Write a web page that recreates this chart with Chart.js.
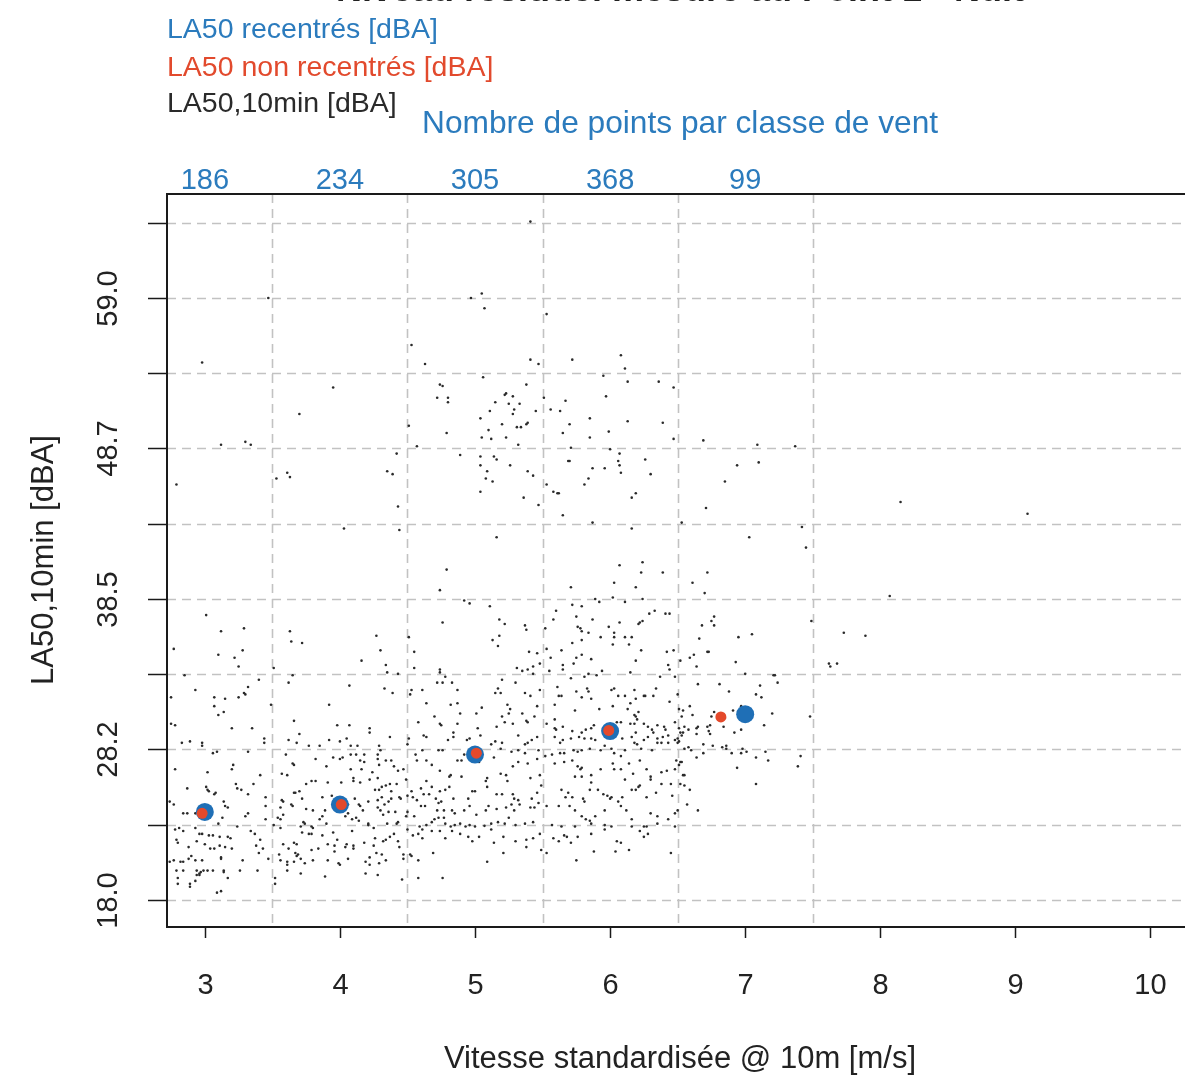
<!DOCTYPE html>
<html>
<head>
<meta charset="utf-8">
<script src="https://cdn.jsdelivr.net/npm/chart.js@4.4.1/dist/chart.umd.min.js"></script>
<style>
html, body { margin: 0; padding: 0; background: #fff; overflow: hidden; }
#wrap { width: 1200px; height: 1079px; }
</style>
</head>
<body>
<div id="wrap"><canvas id="chart" width="1200" height="1079"></canvas></div>
<script>
// wind classes and the number of 10 min samples in each
var windClasses = [3, 4, 5, 6, 7];
var pointsPerClass = [186, 234, 305, 368, 99];
var classLimits = [3.5, 4.5, 5.5, 6.5, 7.5];

// axis ticks
var xTicks = [3, 4, 5, 6, 7, 8, 9, 10];
var yTicks = [18.0, 23.125, 28.25, 33.375, 38.5, 43.625, 48.75, 53.875, 59.0, 64.125];
var yTickLabels = ["18.0", "", "28.2", "", "38.5", "", "48.7", "", "59.0", ""];

// medians per class
var recentred = [[3, 24.0], [4, 24.5], [5, 27.9], [6, 29.5], [7, 30.65]];
var notRecentred = [[2.98, 23.9], [4.01, 24.5], [5.01, 28.0], [5.99, 29.55], [6.82, 30.47]];

// LA50,10min samples, grouped by wind class
var samplesClass3 = [[3.47,59.0],[2.98,54.6],[3.12,49.0],[3.30,49.2],[3.34,49.0],[2.79,46.3],[3.01,37.4],[3.12,36.3],[3.29,36.5],[2.77,35.1],[3.10,34.7],[3.28,35.0],[3.22,34.5],[3.25,33.9],[2.85,33.3],[3.40,33.0],[2.93,32.3],[3.07,31.8],[3.15,31.7],[3.25,31.8],[3.29,32.1],[3.30,32.0],[3.32,32.5],[2.75,31.8],
[3.07,31.2],[3.10,30.6],[3.14,30.8],[3.49,31.3],[2.75,30.0],[2.78,29.9],[3.20,29.7],[3.35,29.7],[3.44,29.0],[3.44,28.7],[2.83,28.7],[2.89,28.8],[2.98,28.7],[2.98,28.5],
[3.06,28.0],[3.09,28.1],[3.32,28.1],[3.21,27.2],[3.20,26.9],[2.78,26.9],[3.02,26.7],[3.41,26.5],[3.36,25.9],[3.23,25.9],[3.24,25.6],[3.27,25.5],[2.87,25.6],[3.01,25.7],[3.08,25.3],
[3.02,25.5],[3.03,25.4],[3.07,25.2],[3.14,24.7],[3.17,24.3],[3.15,24.4],[2.74,24.7],[2.77,24.5],[3.45,25.0],[3.45,24.4],[3.32,25.2],
[2.84,23.9],[2.87,23.9],[2.93,23.9],[3.02,24.1],[3.10,23.2],[3.13,23.6],[3.32,23.9],[3.30,23.7],[3.45,23.5],
[3.24,23.0],[2.78,22.8],[2.81,22.9],[2.84,22.7],[2.93,22.9],[2.96,22.5],[2.98,22.5],[3.03,22.4],[3.06,22.4],[3.11,22.3],[3.17,22.3],[3.19,22.2],[3.34,22.7],[3.37,22.5],[3.41,22.1],[2.79,22.1],[2.80,21.9],[2.94,22.0],
[2.88,21.6],[3.00,21.8],[3.04,21.5],[3.07,21.5],[3.11,21.7],[3.15,21.6],[3.38,21.7],[3.20,21.5],[3.40,21.2],[3.43,21.5],[3.47,20.8],
[2.74,20.6],[2.77,20.7],[2.82,20.6],[2.84,20.6],[2.88,20.8],[2.90,21.0],[2.93,20.7],[2.98,20.7],[3.12,20.9],[3.12,20.8],[3.28,20.7],
[2.79,20.0],[2.84,20.0],[2.94,20.0],[2.96,19.8],[2.97,19.9],[2.99,20.0],[3.02,20.0],[3.06,20.0],[3.14,20.0],[3.14,19.9],[3.17,19.5],[3.26,20.0],[3.39,20.0],
[2.80,19.5],[2.80,19.1],[2.89,19.1],[2.89,18.9],[2.94,19.7],[2.93,19.3],[2.96,19.7],[3.09,18.5],[3.12,18.6]];

var samplesClass4 = [[3.95,52.9],[3.70,51.1],[3.61,47.1],[3.53,46.7],[3.63,46.8],[4.35,47.2],[4.39,47.0],[4.42,48.4],[4.43,44.8],[4.03,43.3],[4.44,43.2],[3.63,36.3],[3.64,35.6],[3.72,35.5],[3.51,33.8],[3.65,33.3],[3.62,32.8],[4.27,36.0],[4.30,35.0],[4.34,34.0],[4.35,33.5],[4.43,33.4],[4.16,34.3],[4.07,32.6],[4.33,32.4],[4.39,32.1],
[3.92,31.3],[3.66,30.2],[3.70,29.3],[3.62,28.9],[3.68,28.7],[3.98,29.9],[4.07,29.9],[4.22,29.7],[4.22,29.4],[3.92,28.9],[4.00,28.8],[4.05,29.0],[4.08,28.5],[4.13,28.5],[3.85,28.5],[3.77,28.5],[4.37,29.1],[4.29,28.5],
[3.60,27.9],[3.65,27.3],[3.66,27.2],[3.82,27.6],[3.90,27.1],[3.95,27.7],[4.00,27.6],[4.02,27.7],[4.08,27.9],[4.18,27.9],[4.12,27.9],[4.15,27.5],[4.18,27.4],[4.28,27.9],[4.30,28.2],[4.28,27.6],[4.34,27.5],[4.38,27.5],[4.40,27.1],[4.43,26.8],[4.47,26.9],[4.08,26.9],[4.16,26.9],[4.24,26.7],[4.29,27.2],
[3.57,26.6],[3.61,26.5],[3.75,25.9],[3.79,26.1],[3.82,26.1],[4.10,26.3],[4.10,26.1],[3.91,26.0],[4.01,26.0],[4.15,26.0],[4.28,26.3],[4.22,26.2],[4.31,25.7],[4.29,25.5],[4.34,25.8],[4.37,25.9],[4.42,25.9],[4.49,26.2],
[3.57,24.8],[3.58,24.7],[3.64,24.5],[3.67,25.3],[3.70,25.4],[3.66,25.3],[3.72,24.9],[3.87,25.0],[3.94,25.1],[4.06,24.5],[4.11,24.9],[4.14,24.5],[4.15,24.4],[4.21,24.7],[4.26,25.5],[4.28,24.8],[4.31,25.0],[4.33,24.5],[4.36,24.7],[4.38,24.9],[4.38,25.4],[4.44,25.0],[4.45,24.9],
[3.54,23.6],[3.56,23.5],[3.58,23.8],[3.56,24.3],[3.65,24.4],[3.75,24.2],[3.80,24.1],[3.89,24.1],[3.85,23.5],[3.87,23.7],[3.90,23.2],[4.06,23.9],[4.04,23.7],[4.09,23.5],[4.12,23.6],[4.14,23.4],[4.17,24.1],[4.21,23.2],[4.28,24.3],[4.30,24.1],[4.32,23.8],[4.36,24.0],[4.41,24.0],[4.42,23.2],[4.43,23.3],[4.49,23.7],
[3.51,23.1],[3.56,22.9],[3.73,23.3],[3.74,23.2],[3.71,23.0],[3.79,23.0],[3.80,22.9],[3.72,22.6],[3.77,22.5],[3.79,22.5],[3.87,22.4],[3.95,22.6],[4.09,22.7],[4.21,23.1],[4.25,22.9],[4.35,23.2],[4.26,22.2],[4.37,22.3],[4.40,22.5],[4.32,22.0],[4.34,22.1],[3.98,22.1],
[3.66,21.9],[3.68,21.8],[3.67,21.2],[3.69,21.1],[3.62,21.5],[3.58,21.8],[3.91,21.8],[3.96,21.7],[4.04,21.6],[4.05,21.8],[4.10,21.7],[4.10,21.5],[3.96,21.3],[3.84,21.5],[3.79,21.4],[4.18,21.9],[4.25,21.7],[4.43,22.0],[4.44,21.6],[4.47,21.1],[4.31,21.1],[4.27,21.2],[4.22,20.9],[4.19,20.6],[4.22,20.4],[4.29,20.5],[4.34,20.7],[4.47,20.8],
[3.55,21.1],[3.56,20.7],[3.61,20.6],[3.61,20.4],[3.66,20.6],[3.68,21.0],[3.71,20.8],[3.74,20.5],[3.80,20.7],[3.91,20.7],[3.99,20.5],[4.00,20.4],[4.06,20.8],
[3.61,20.0],[3.71,19.8],[3.89,19.6],[4.19,19.8],[4.28,19.7],[4.46,19.4],[3.52,19.5],[3.52,19.1]];

var samplesClass5 = [[4.53,55.8],[4.63,54.5],[4.51,50.3],[4.57,48.9],[4.97,59.0],[5.05,59.3],[5.07,58.3],[5.41,54.8],[5.47,54.5],[5.06,53.6],[4.74,53.1],[4.76,53.0],[4.72,52.2],[4.80,52.2],[4.80,51.9],[5.38,53.1],[5.23,52.5],[5.22,52.4],[5.28,52.3],[5.15,51.9],[5.25,51.8],[5.33,51.8],[5.29,51.4],[5.28,51.1],[5.11,51.3],[5.45,51.3],[5.04,50.8],[5.20,50.4],[5.39,50.5],[5.38,50.4],[5.31,50.2],[5.34,50.2],[5.10,50.0],[4.79,49.8],[5.05,49.5],[5.12,49.4],[5.23,49.5],[5.32,49.0],[5.41,64.2],
[4.51,35.9],[4.55,34.9],[4.55,33.8],[4.53,32.3],[4.61,32.3],[4.52,32.0],
[4.89,48.3],[5.04,48.2],[5.14,48.2],[5.16,48.0],[5.26,47.6],[5.04,47.6],[5.09,47.2],[5.39,47.2],[5.43,46.9],[5.08,46.7],[5.13,46.5],[5.04,45.8],[5.36,45.4],[5.47,44.9],[5.16,42.7],[4.79,40.5],[4.74,39.1],[4.92,38.4],[4.96,38.2],[4.76,36.9],[5.11,38.0],[5.18,37.1],[5.22,36.8],[5.37,36.7],[5.38,36.4],[5.18,36.0],[5.13,35.7],[5.17,35.3],[5.40,34.9],[5.46,34.8],[5.43,33.9],[5.48,34.1],[5.31,33.8],[5.35,33.6],[5.39,33.7],[5.43,33.4],[5.20,33.0],[5.30,32.8],[5.17,32.4],[5.15,32.1],[5.19,32.1],[4.87,32.3],[4.74,33.7],[4.74,33.5],[4.78,33.2],[4.72,32.8],[4.76,32.8],[4.83,32.8],[5.37,32.1],[5.41,31.9],[5.48,32.3],
[4.51,29.0],[4.50,28.6],[4.56,27.9],[4.57,27.5],[4.64,27.5],[4.53,25.4],[4.60,25.6],[4.50,25.1],[4.54,25.0],[4.63,24.4],[4.57,24.8],[4.55,23.7],[4.50,24.0],[4.60,24.4],[4.64,23.1],[4.50,22.8],[4.54,22.4],[4.58,22.5],[4.61,22.2],[4.52,21.1],[4.53,21.0],[4.58,20.7],[4.58,19.5],
[4.64,31.4],[4.82,31.3],[4.87,31.4],[5.05,31.1],[5.24,31.3],[5.26,31.0],[5.25,30.7],[5.35,30.7],[5.46,31.2],
[4.58,30.1],[4.70,30.5],[4.74,30.0],[4.75,29.9],[4.89,30.7],[5.01,30.7],[4.87,30.0],[5.02,29.7],[5.16,29.8],[5.20,30.5],[5.22,30.1],[5.28,30.0],[5.38,30.2],[5.39,30.1],[5.44,30.5],[4.62,29.2],[4.64,29.1],[4.84,29.4],[4.84,29.1],[4.96,29.0],
[4.80,28.9],[4.94,28.9],[5.04,29.2],[5.15,28.8],[5.20,28.7],[5.32,29.2],[5.37,28.6],[5.39,28.7],[5.42,28.9],[5.46,29.1],[4.61,28.2],[4.73,28.2],[4.76,28.2],[4.87,27.5],[4.90,27.5],[4.92,27.9],[5.12,28.6],[5.19,28.3],[5.27,28.1],[5.32,28.2],[5.37,28.0],[5.47,28.2],
[4.68,27.2],[4.74,26.8],[4.81,26.4],[4.82,26.5],[4.90,26.4],[5.03,27.4],[5.09,26.3],[5.08,26.1],[5.14,27.7],[5.19,26.6],[5.23,26.5],[5.24,26.1],[5.28,27.1],[5.32,27.4],[5.39,27.3],[5.41,26.3],[5.46,27.6],[5.48,26.5],
[4.64,26.1],[4.68,25.7],[4.74,25.4],[4.78,25.5],[4.81,25.7],[4.62,25.2],[4.66,25.2],[4.71,24.9],[4.73,24.6],[4.75,24.7],[4.84,24.9],[4.95,24.9],[5.00,25.4],[4.98,25.4],[5.09,25.7],[5.16,25.2],[5.20,25.2],[5.28,25.2],[5.29,24.9],[5.32,24.8],[5.42,24.9],[5.46,25.3],[5.49,25.8],
[4.72,24.1],[4.77,24.1],[4.83,24.1],[4.85,23.9],[4.92,24.1],[4.96,24.4],[5.01,23.8],[5.08,24.1],[5.10,24.4],[5.16,24.2],[5.23,24.3],[5.27,24.5],[5.29,24.1],[5.33,24.5],[5.41,24.3],[5.44,24.3],[5.47,24.6],
[4.59,23.0],[4.68,23.3],[4.70,23.5],[4.73,23.6],[4.77,23.6],[4.78,23.2],[4.82,23.0],[4.85,23.1],[4.89,23.2],[4.93,23.0],[4.96,23.1],[5.00,23.0],[5.07,23.05],[5.12,23.2],[5.17,23.3],[5.22,23.2],[5.25,23.6],[5.30,23.1],[5.37,23.2],[5.43,23.3],
[4.61,22.8],[4.68,22.7],[4.74,22.7],[4.78,22.2],[4.83,22.7],[4.89,22.5],[4.95,22.3],[4.98,22.0],[5.03,22.3],[5.14,21.9],[5.21,22.3],[5.30,22.0],[5.38,22.1],[5.43,22.2],[5.49,21.4],[5.38,21.6],[5.21,21.2],[5.12,22.8],[5.48,22.5],
[4.69,21.2],[4.76,19.5],[5.09,20.6]];

var samplesClass6 = [[5.53,57.9],[5.72,54.8],[6.08,55.1],[6.11,54.2],[5.95,53.7],[6.13,53.3],[6.36,53.3],[6.47,52.9],[5.51,52.2],[5.56,51.4],[5.63,51.3],[5.67,52.0],[5.97,52.3],[5.70,50.4],[5.85,50.8],[5.65,49.8],[5.85,49.5],[5.99,49.9],[6.13,50.6],[6.39,50.5],[6.47,49.4],[5.71,48.8],[6.00,48.7],
[6.07,48.4],[5.69,47.9],[5.70,47.9],[5.87,47.4],[5.84,46.7],[5.96,47.4],[5.81,46.3],[6.06,47.9],[6.07,47.6],[6.08,47.1],[6.26,48.0],[6.30,47.0],[5.53,46.3],[5.58,45.8],[5.61,45.7],[5.62,45.7],[5.65,44.2],[6.16,45.4],[6.19,45.7],[5.87,43.7],[6.16,43.3],
[6.07,40.8],[6.24,41.0],[6.23,40.3],[6.39,40.3],[6.03,39.6],[5.71,39.3],[6.19,39.3],[6.02,38.6],[5.72,38.1],[5.79,38.0],[5.89,38.5],[5.92,38.3],[6.11,38.3],[6.24,38.5],[5.60,37.7],[5.58,37.1],[5.75,37.3],[5.87,37.1],[6.07,36.9],[6.29,37.5],[6.33,37.7],[6.41,37.5],[6.44,37.5],[6.21,36.8],[6.22,36.9],[6.24,37.0],[5.52,36.5],[5.76,36.6],[5.78,36.5],[5.79,36.3],[5.84,36.2],[5.99,36.6],[6.03,36.2],[6.03,35.9],[6.02,35.4],[5.93,35.9],[5.72,35.5],[5.79,35.7],[6.11,35.9],[6.16,35.9],[6.14,35.4],[6.23,35.0],[6.19,34.3],[6.42,34.9],[6.47,35.0],[5.53,35.1],[5.64,35.0],[5.56,34.5],[5.79,34.7],[5.75,34.5],[5.86,34.4],[5.73,34.1],[5.65,34.0],[5.65,33.7],[5.55,33.6],[5.71,33.1],[5.81,33.2],[5.84,33.4],[5.90,33.3],[5.94,33.6],[6.15,33.5],[6.44,33.7],[6.43,34.0],[6.37,33.2],[6.48,33.2],[5.61,32.5],[5.62,31.9],[5.64,31.9],[5.83,32.4],[5.84,32.2],[5.79,31.8],[5.75,32.2],[6.03,32.4],[6.01,32.3],[6.06,31.9],[6.11,31.9],[6.18,32.3],[6.25,31.9],[6.26,31.9],[6.32,31.9],[6.34,32.4],
[5.86,31.7],[6.19,31.7],[6.50,32.0],[6.15,31.4],[5.59,31.3],[5.74,30.9],[5.92,31.0],[6.02,31.2],[6.13,31.0],[6.18,30.6],[6.21,30.8],[6.44,31.5],
[5.53,30.0],[5.59,30.3],[5.59,29.7],[5.60,29.6],[5.65,29.8],[5.72,29.5],[5.79,29.4],[5.82,29.6],[5.86,29.7],[5.88,29.9],[6.05,30.1],[6.08,30.1],[6.15,30.0],[6.18,30.0],[6.20,30.3],[6.19,30.5],[6.25,30.0],[6.28,29.8],[6.31,29.6],[6.35,29.9],[6.40,29.8],[6.41,29.6],[6.48,30.1],
[5.59,29.1],[5.65,28.9],[5.63,28.7],[5.71,29.0],[5.77,29.1],[5.81,29.0],[5.86,29.0],[5.89,28.9],[6.09,29.0],[6.16,29.1],[6.19,29.4],[6.18,28.7],[6.25,28.9],[6.28,29.1],[6.32,29.4],[6.35,29.0],[6.39,29.1],[6.43,29.2],[6.48,28.9],
[5.52,27.8],[5.57,27.9],[5.63,28.0],[5.66,28.0],[5.73,28.2],[5.76,28.1],[5.79,28.2],[5.85,28.3],[5.93,28.2],[5.96,28.5],[6.01,28.3],[6.03,28.0],[6.08,27.8],[6.11,28.2],[6.20,28.6],[6.23,28.3],[6.31,28.2],[6.35,28.7],[6.38,28.7],[6.43,28.7],
[5.59,27.3],[5.66,27.4],[5.72,27.5],[5.76,27.1],[5.79,27.0],[5.78,26.9],[5.74,26.4],[5.79,26.4],[5.86,26.5],[5.93,26.9],[6.02,27.3],[6.03,26.9],[6.08,26.9],[6.14,27.3],[6.17,26.6],[6.22,27.5],[6.27,26.9],[6.30,26.4],[6.30,26.2],[6.38,26.7],[6.42,26.8],[6.45,25.9],[6.48,26.9],[6.49,27.5],[6.22,25.8],[6.11,26.2],
[5.64,25.5],[5.69,25.3],[5.67,25.0],[5.72,25.0],[5.81,24.7],[5.80,24.9],[5.85,25.5],[5.86,26.0],[5.91,25.5],[5.95,25.2],[5.98,25.1],[6.01,25.0],[6.00,24.9],[6.06,24.7],[6.09,25.0],[6.16,25.5],[6.19,25.5],[6.21,25.7],[6.27,25.0],[6.34,25.3],[6.38,25.9],[6.46,25.1],
[5.53,24.4],[5.62,24.4],[5.70,24.4],[5.74,24.1],[5.79,23.7],[5.82,23.5],[5.85,23.4],[5.89,23.7],[5.96,24.1],[6.08,24.4],[6.12,24.1],[6.16,23.5],[6.25,23.0],[6.30,23.9],[6.35,23.7],[6.43,23.5],[6.48,23.9],
[5.57,23.1],[5.64,23.0],[5.74,23.0],[5.86,23.2],[5.96,23.1],[6.01,23.0],[6.16,23.0],
[5.53,21.2],[5.58,22.2],[5.62,22.0],[5.66,22.4],[5.68,22.3],[5.71,21.9],[5.76,22.3],[5.86,22.5],[5.96,22.8],[6.05,22.0],[6.08,21.9],[6.14,21.4],[6.22,22.7],[6.25,22.3],[6.27,23.0],[6.28,22.5],[6.35,23.2],[6.48,23.0],[6.45,21.2],[5.88,21.3],[6.04,21.3],[5.75,20.7]];

var samplesClass7 = [[6.69,49.3],[7.09,49.0],[7.37,48.9],[6.94,47.6],[7.10,47.8],[6.85,46.5],[6.71,44.7],[6.53,43.7],[7.42,43.4],[7.03,42.7],[7.45,42.0],[6.72,40.3],[6.61,39.6],[6.70,38.9],[7.49,37.0],[6.77,37.3],[6.75,37.0],[6.77,36.7],[6.68,36.7],[6.66,35.8],[6.95,35.9],[7.05,36.1],[6.72,34.9],[6.73,34.9],[6.62,34.7],[6.59,34.5],[6.52,34.3],[6.64,33.9],[6.93,34.2],[7.00,33.4],[7.21,33.3],[7.22,33.3],[7.24,32.8],[6.65,32.7],[6.81,32.7],[6.88,32.2],[7.11,32.6],[7.08,32.0],[7.12,31.8],
[6.51,31.0],[6.51,29.7],[6.55,29.8],[6.54,29.4],[6.50,29.0],[6.50,28.7],[6.55,28.3],[6.52,27.4],[6.55,25.8],[6.57,24.5],[6.50,24.1],
[6.59,31.2],[6.54,30.9],[6.61,30.6],[6.53,30.5],[6.77,30.8],[6.75,30.5],[6.85,30.4],[6.91,30.9],[6.97,31.2],[7.20,30.7],[7.48,30.5],[6.58,29.6],[6.64,29.7],[6.65,29.8],[6.72,29.8],[6.74,29.9],[6.73,29.5],[6.74,29.3],[6.64,29.3],[7.14,29.9],[6.92,29.4],[6.97,29.6],[6.84,29.8],[6.52,29.4],[6.53,29.2],[6.51,28.8],[6.69,28.6],[6.76,28.5],[6.83,28.4],[6.86,28.5],[6.86,28.3],[6.58,28.4],[6.60,28.2],[6.69,28.0],[6.90,28.0],[6.97,28.0],[6.98,28.3],[7.01,28.1],[7.15,28.1],[6.64,27.7],[7.08,27.7],[7.17,27.5],[7.41,27.8],[7.39,27.1],[6.53,27.4],[6.51,27.2],[6.94,27.0],[6.54,26.5],[6.55,26.5],[7.08,25.9],[6.52,25.9],[6.59,25.5],[6.65,24.1]];

var samplesAbove = [[8.15,45.1],[8.07,38.7],[7.73,36.2],[7.89,36.0],[7.62,34.1],[7.63,33.9],[7.68,34.1],[9.09,44.3]];

var allSamples = samplesClass3.concat(samplesClass4, samplesClass5, samplesClass6, samplesClass7, samplesAbove);

function toXY(list) {
	return list.map(function (p) { return { x: p[0], y: p[1] }; });
}

var blue = "#1f6fb6";
var red = "#e4492b";
var textBlue = "#2b7bbd";
var textRed = "#e24a2d";
var font = "'Liberation Sans', Arial, Helvetica, sans-serif";

var decorPlugin = {
	id: "decor",
	beforeDatasetsDraw: function (chart) {
		var c = chart.ctx, a = chart.chartArea;
		var xs = chart.scales.x, ys = chart.scales.y;
		c.save();
		c.strokeStyle = "#c2c2c2";
		c.lineWidth = 1.6;
		c.setLineDash([9, 6]);
		yTicks.forEach(function (v) {
			var y = Math.round(ys.getPixelForValue(v)) + 0.5;
			c.beginPath(); c.moveTo(a.left, y); c.lineTo(a.right, y); c.stroke();
		});
		classLimits.forEach(function (v) {
			var x = Math.round(xs.getPixelForValue(v)) + 0.5;
			c.beginPath(); c.moveTo(x, a.top); c.lineTo(x, a.bottom); c.stroke();
		});
		c.restore();
	},
	afterDatasetsDraw: function (chart) {
		var c = chart.ctx, a = chart.chartArea;
		var xs = chart.scales.x, ys = chart.scales.y;
		c.save();

		// box
		c.strokeStyle = "#1a1a1a";
		c.lineWidth = 2;
		c.strokeRect(a.left, a.top, a.right - a.left, a.bottom - a.top);

		// y ticks and labels
		c.lineWidth = 1.5;
		c.fillStyle = "#222";
		c.font = "29px " + font;
		yTicks.forEach(function (v, i) {
			var y = Math.round(ys.getPixelForValue(v)) + 0.5;
			c.beginPath(); c.moveTo(a.left - 19, y); c.lineTo(a.left, y); c.stroke();
			if (yTickLabels[i]) {
				c.save();
				c.translate(117, y);
				c.rotate(-Math.PI / 2);
				c.textAlign = "center";
				c.textBaseline = "alphabetic";
				c.fillText(yTickLabels[i], 0, 0);
				c.restore();
			}
		});

		// x ticks and labels
		c.textAlign = "center";
		c.textBaseline = "alphabetic";
		xTicks.forEach(function (v) {
			var x = Math.round(xs.getPixelForValue(v)) + 0.5;
			c.beginPath(); c.moveTo(x, a.bottom); c.lineTo(x, a.bottom + 11); c.stroke();
			c.fillText(String(v), x, 994);
		});

		// counts per wind class
		c.fillStyle = textBlue;
		windClasses.forEach(function (v, i) {
			c.fillText(String(pointsPerClass[i]), xs.getPixelForValue(v), 189);
		});

		// axis titles
		c.fillStyle = "#222";
		c.font = "31px " + font;
		c.fillText("Vitesse standardisée @ 10m [m/s]", 680, 1068);
		c.save();
		c.translate(53, 560);
		c.rotate(-Math.PI / 2);
		c.fillText("LA50,10min [dBA]", 0, 0);
		c.restore();

		// legend text
		c.textAlign = "left";
		c.font = "28.5px " + font;
		c.fillStyle = textBlue;
		c.fillText("LA50 recentrés [dBA]", 167, 38);
		c.fillStyle = textRed;
		c.fillText("LA50 non recentrés [dBA]", 167, 76);
		c.fillStyle = "#2a2a2a";
		c.fillText("LA50,10min [dBA]", 167, 112);
		c.fillStyle = textBlue;
		c.font = "31.7px " + font;
		c.fillText("Nombre de points par classe de vent", 422, 133);

		// main title, almost entirely above the visible page
		c.fillStyle = "#222";
		c.font = "bold 36px " + font;
		c.textAlign = "center";
		c.fillText("Niveau résiduel mesuré au Point 1 - Nuit", 680, 1);

		c.restore();
	}
};

var ctx = document.getElementById("chart");
var chart = new Chart(ctx, {
	type: "scatter",
	data: {
		datasets: [
			{
				label: "LA50 non recentrés [dBA]",
				data: toXY(notRecentred),
				backgroundColor: red,
				borderWidth: 0,
				pointRadius: 5.5,
				order: 0
			},
			{
				label: "LA50 recentrés [dBA]",
				data: toXY(recentred),
				backgroundColor: blue,
				borderWidth: 0,
				pointRadius: 9,
				order: 1
			},
			{
				label: "LA50,10min [dBA]",
				data: toXY(allSamples),
				backgroundColor: "#2a2a2a",
				borderWidth: 0,
				pointRadius: 1.3,
				order: 2
			}
		]
	},
	options: {
		responsive: false,
		animation: false,
		layout: { padding: { left: 167, top: 194, right: 4, bottom: 152 } },
		scales: {
			x: { type: "linear", min: 2.72, max: 10.3, display: false },
			y: { type: "linear", min: 16.16, max: 66.08, display: false }
		},
		plugins: {
			legend: { display: false },
			tooltip: { enabled: false }
		}
	},
	plugins: [decorPlugin]
});
</script>
</body>
</html>
